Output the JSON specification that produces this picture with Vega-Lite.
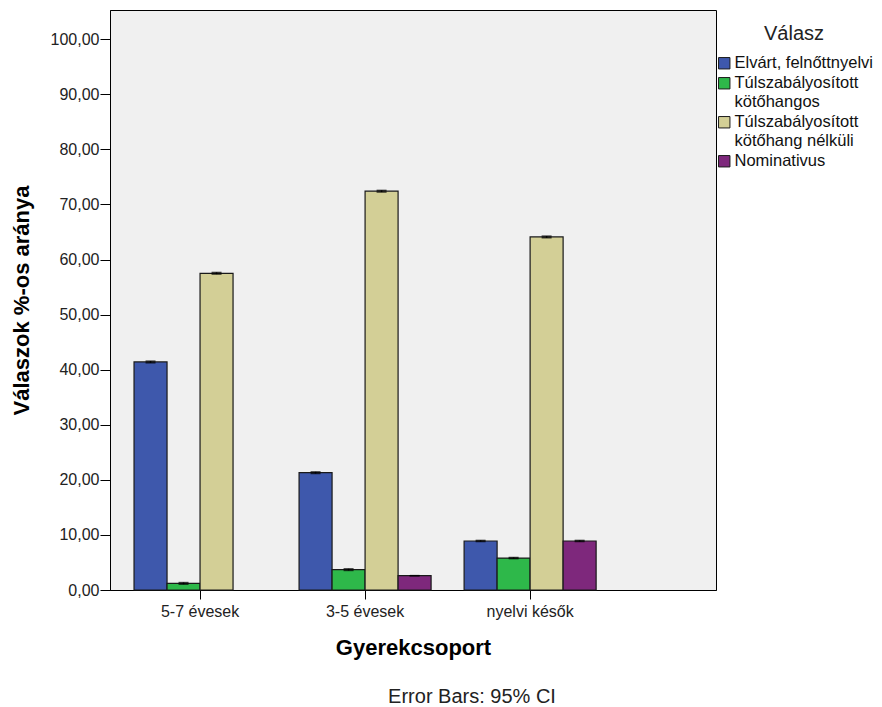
{
  "$schema": "https://vega.github.io/schema/vega-lite/v6.json",
  "autosize": {"type": "none"},
  "padding": {"left": 110, "top": 10, "right": 166, "bottom": 117},
  "width": 606,
  "height": 580,
  "background": "white",
  "config": {
    "font": "Liberation Sans",
    "view": {"fill": "#f0f0f0", "stroke": "#000000", "strokeWidth": 1}
  },
  "title": {
    "text": "Error Bars: 95% CI",
    "orient": "bottom",
    "anchor": "middle",
    "dx": 59,
    "offset": 29,
    "font": "Liberation Sans",
    "fontSize": 20,
    "fontWeight": "normal",
    "color": "#222222"
  },
  "data": {
    "values": [
      {"csoport": "5-7 évesek", "valasz": "Elvárt, felnőttnyelvi", "ertek": 41.4, "lo": 41.25, "hi": 41.55},
      {"csoport": "5-7 évesek", "valasz": "Túlszabályosított kötőhangos", "ertek": 1.2, "lo": 1.05, "hi": 1.35},
      {"csoport": "5-7 évesek", "valasz": "Túlszabályosított kötőhang nélküli", "ertek": 57.5, "lo": 57.35, "hi": 57.65},
      {"csoport": "3-5 évesek", "valasz": "Elvárt, felnőttnyelvi", "ertek": 21.3, "lo": 21.15, "hi": 21.45},
      {"csoport": "3-5 évesek", "valasz": "Túlszabályosított kötőhangos", "ertek": 3.7, "lo": 3.55, "hi": 3.85},
      {"csoport": "3-5 évesek", "valasz": "Túlszabályosított kötőhang nélküli", "ertek": 72.4, "lo": 72.25, "hi": 72.55},
      {"csoport": "3-5 évesek", "valasz": "Nominativus", "ertek": 2.6, "lo": 2.6, "hi": 2.6},
      {"csoport": "nyelvi késők", "valasz": "Elvárt, felnőttnyelvi", "ertek": 8.9, "lo": 8.8, "hi": 9.0},
      {"csoport": "nyelvi késők", "valasz": "Túlszabályosított kötőhangos", "ertek": 5.8, "lo": 5.7, "hi": 5.9},
      {"csoport": "nyelvi késők", "valasz": "Túlszabályosított kötőhang nélküli", "ertek": 64.1, "lo": 63.95, "hi": 64.25},
      {"csoport": "nyelvi késők", "valasz": "Nominativus", "ertek": 8.9, "lo": 8.8, "hi": 9.0}
    ]
  },
  "encoding": {
    "x": {
      "field": "csoport",
      "type": "nominal",
      "sort": ["5-7 évesek", "3-5 évesek", "nyelvi késők"],
      "scale": {"paddingInner": 0.2, "paddingOuter": 0.436, "align": 0.167},
      "axis": {
        "title": "Gyerekcsoport",
        "titleFont": "Liberation Sans",
        "titleFontSize": 22,
        "titleFontWeight": "bold",
        "titleColor": "#000000",
        "titlePadding": 18,
        "labelFont": "Liberation Sans",
        "labelFontSize": 16,
        "labelColor": "#222222",
        "labelAngle": 0,
        "labelPadding": 4,
        "tickSize": 9,
        "tickColor": "#000000",
        "domainColor": "#000000",
        "grid": false
      }
    },
    "xOffset": {
      "field": "valasz",
      "type": "nominal",
      "sort": ["Elvárt, felnőttnyelvi", "Túlszabályosított kötőhangos", "Túlszabályosított kötőhang nélküli", "Nominativus"],
      "scale": {"paddingInner": 0, "paddingOuter": 0}
    }
  },
  "layer": [
    {
      "mark": {"type": "bar", "stroke": "#1a1a1a", "strokeWidth": 1.2},
      "encoding": {
        "y": {
          "field": "ertek",
          "type": "quantitative",
          "scale": {"domain": [0, 105.3], "nice": false},
          "axis": {
            "title": "Válaszok %-os aránya",
            "titleFont": "Liberation Sans",
            "titleFontSize": 22,
            "titleFontWeight": "bold",
            "titleColor": "#000000",
            "titlePadding": 17,
            "values": [0, 10, 20, 30, 40, 50, 60, 70, 80, 90, 100],
            "labelExpr": "replace(format(datum.value, '.2f'), '.', ',')",
            "labelFont": "Liberation Sans",
            "labelFontSize": 16,
            "labelColor": "#222222",
            "labelPadding": 1,
            "tickSize": 10,
            "tickColor": "#000000",
            "domainColor": "#000000",
            "grid": false
          }
        },
        "color": {
          "field": "valasz",
          "type": "nominal",
          "sort": ["Elvárt, felnőttnyelvi", "Túlszabályosított kötőhangos", "Túlszabályosított kötőhang nélküli", "Nominativus"],
          "scale": {
            "domain": ["Elvárt, felnőttnyelvi", "Túlszabályosított kötőhangos", "Túlszabályosított kötőhang nélküli", "Nominativus"],
            "range": ["#3e58ac", "#2eb84a", "#d3cf96", "#7e287c"]
          },
          "legend": {
            "title": "Válasz",
            "orient": "none",
            "legendX": 606,
            "legendY": 14,
            "padding": 0,
            "titleAnchor": "middle",
            "titleFont": "Liberation Sans",
            "titleFontSize": 20,
            "titleFontWeight": "normal",
            "titleColor": "#222222",
            "titlePadding": 11,
            "labelFont": "Liberation Sans",
            "labelFontSize": 16.5,
            "labelColor": "#111111",
            "labelLimit": 300,
            "labelOffset": 2,
            "labelExpr": "datum.label == 'Túlszabályosított kötőhangos' ? ['Túlszabályosított', 'kötőhangos'] : datum.label == 'Túlszabályosított kötőhang nélküli' ? ['Túlszabályosított', 'kötőhang nélküli'] : datum.label",
            "symbolType": "square",
            "symbolSize": 130,
            "symbolStrokeColor": "#1a1a1a",
            "symbolStrokeWidth": 1,
            "symbolOpacity": 1,
            "rowPadding": 3
          }
        }
      }
    },
    {
      "mark": {"type": "rule", "color": "#000000", "strokeWidth": 1.5},
      "encoding": {
        "y": {"field": "lo", "type": "quantitative"},
        "y2": {"field": "hi"}
      }
    },
    {
      "mark": {"type": "tick", "color": "#000000", "thickness": 1.5, "size": 10},
      "encoding": {
        "y": {"field": "hi", "type": "quantitative"}
      }
    },
    {
      "mark": {"type": "tick", "color": "#000000", "thickness": 1.5, "size": 10},
      "encoding": {
        "y": {"field": "lo", "type": "quantitative"}
      }
    }
  ]
}
